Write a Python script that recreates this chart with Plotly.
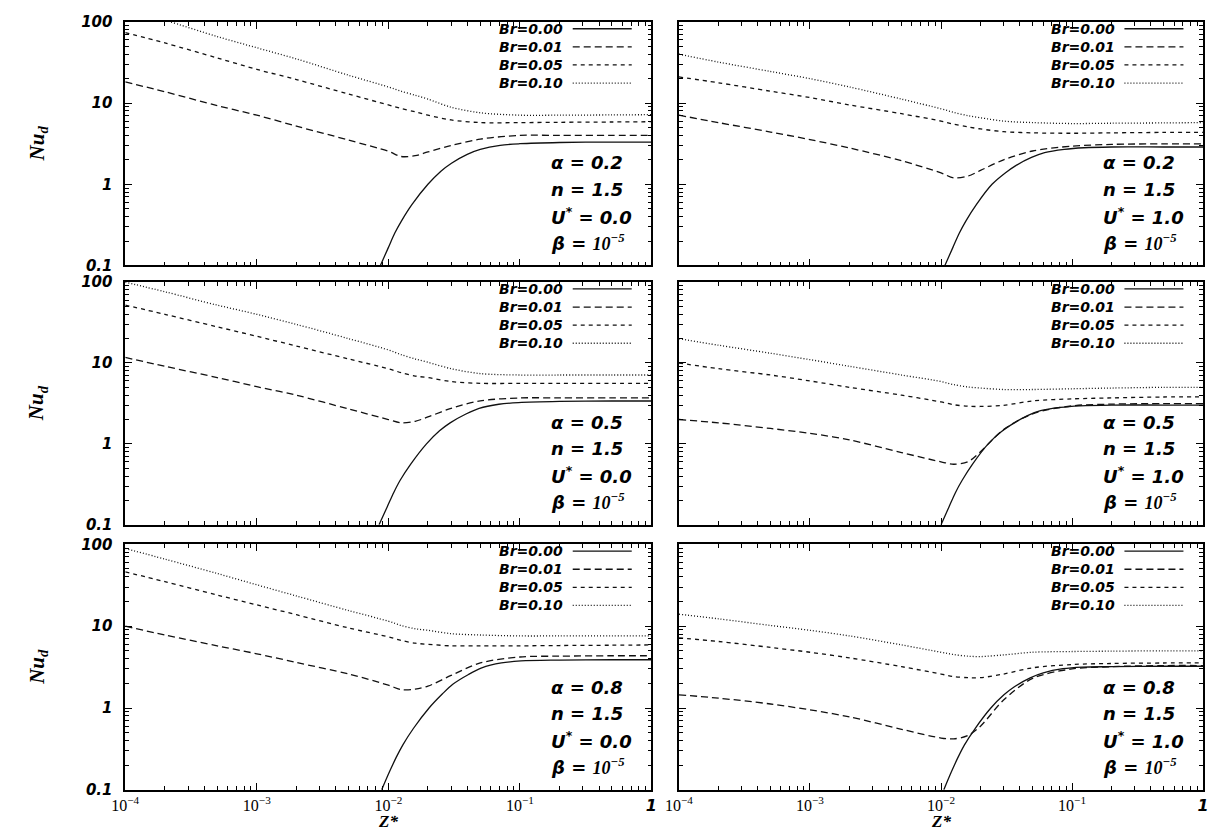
import plotly.graph_objects as go

# ---------------- data ----------------
BR_LABELS = ["Br=0.00", "Br=0.01", "Br=0.05", "Br=0.10"]
ALPHA_TXT = ["0.2", "0.2", "0.5", "0.5", "0.8", "0.8"]
USTAR_TXT = ["0.0", "1.0", "0.0", "1.0", "0.0", "1.0"]
N_TXT = "1.5"
X_TICKS = [1e-4, 1e-3, 1e-2, 1e-1, 1]
Y_TICKS = [0.1, 1, 10, 100]
Y_TICK_TEXT = ["0.1", "1", "10", "100"]

# common z* positions for the Br > 0 curves
Z_GRID = [1e-4, 2e-4, 5e-4, 1e-3, 2e-3, 5e-3, 0.01, 0.0125, 0.016, 0.02, 0.03, 0.05, 0.1, 0.2, 0.5, 1.0]

# panel 1: alpha=0.2, U*=0.0
p1_z_br000 = [0.0087, 0.01, 0.0112, 0.0126, 0.0151, 0.02, 0.0251, 0.0302, 0.0398, 0.05, 0.0708, 0.1, 0.2, 0.5, 1.0]
p1_nu_br000 = [0.1, 0.166, 0.251, 0.355, 0.562, 1.0, 1.45, 1.82, 2.34, 2.69, 3.02, 3.16, 3.27, 3.31, 3.31]
p1_nu_br001 = [18.2, 13.8, 9.3, 7.1, 5.2, 3.5, 2.55, 2.2, 2.25, 2.5, 3.0, 3.6, 4.0, 4.0, 4.0, 4.0]
p1_nu_br005 = [74, 55, 36, 26, 19.5, 12.9, 9.5, 8.6, 7.8, 7.1, 6.2, 5.75, 5.75, 5.8, 5.85, 5.9]
p1_nu_br010 = [145, 105, 66, 48, 35, 22, 15.8, 14.0, 12.5, 11.2, 8.9, 7.6, 7.1, 7.1, 7.15, 7.2]

# panel 2: alpha=0.2, U*=1.0
p2_z_br000 = [0.0107, 0.0123, 0.0138, 0.0155, 0.0186, 0.0245, 0.0309, 0.0372, 0.049, 0.0617, 0.0871, 0.123, 0.2, 0.5, 1.0]
p2_nu_br000 = [0.1, 0.166, 0.251, 0.355, 0.562, 1.0, 1.38, 1.70, 2.14, 2.45, 2.69, 2.82, 2.88, 2.88, 2.88]
p2_nu_br001 = [7.1, 5.75, 4.4, 3.55, 2.8, 1.95, 1.38, 1.2, 1.26, 1.48, 2.0, 2.57, 2.95, 3.1, 3.15, 3.15]
p2_nu_br005 = [21, 17.8, 14, 11.7, 9.5, 7.4, 6.0, 5.5, 5.1, 4.8, 4.45, 4.3, 4.25, 4.3, 4.35, 4.35]
p2_nu_br010 = [40, 32, 24.5, 20, 15.8, 11.2, 8.5, 7.7, 7.0, 6.6, 6.0, 5.75, 5.6, 5.65, 5.7, 5.75]

# panel 3: alpha=0.5, U*=0.0
p3_z_br000 = [0.0085, 0.0098, 0.011, 0.0123, 0.0148, 0.0195, 0.0245, 0.0295, 0.0389, 0.049, 0.0692, 0.0977, 0.2, 0.5, 1.0]
p3_nu_br000 = [0.1, 0.166, 0.251, 0.355, 0.562, 1.0, 1.45, 1.82, 2.34, 2.75, 3.09, 3.24, 3.35, 3.39, 3.39]
p3_nu_br001 = [11.7, 9.1, 6.6, 5.1, 4.0, 2.7, 2.0, 1.82, 1.9, 2.15, 2.75, 3.4, 3.7, 3.7, 3.7, 3.7]
p3_nu_br005 = [52, 40, 28, 21.4, 16.2, 11.2, 8.5, 7.6, 6.9, 6.6, 5.9, 5.6, 5.6, 5.6, 5.6, 5.6]
p3_nu_br010 = [100, 76, 52, 40, 30, 20, 14.5, 12.7, 11.2, 10.2, 8.5, 7.4, 7.1, 7.1, 7.1, 7.1]

# panel 4: alpha=0.5, U*=1.0
p4_z_br000 = [0.01, 0.0115, 0.0129, 0.0145, 0.0174, 0.0229, 0.0288, 0.0347, 0.0457, 0.0575, 0.0813, 0.115, 0.2, 0.5, 1.0]
p4_nu_br000 = [0.1, 0.166, 0.251, 0.355, 0.562, 1.0, 1.41, 1.74, 2.24, 2.57, 2.82, 2.95, 3.02, 3.02, 3.02]
p4_nu_br001 = [2.0, 1.82, 1.55, 1.35, 1.12, 0.78, 0.6, 0.56, 0.6, 0.8, 1.5, 2.35, 2.95, 3.1, 3.15, 3.15]
p4_nu_br005 = [10, 8.5, 7.1, 6.0, 5.0, 4.0, 3.3, 3.05, 2.92, 2.9, 3.0, 3.4, 3.6, 3.7, 3.8, 3.8]
p4_nu_br010 = [20, 16.6, 13.2, 11, 9.1, 7.1, 5.9, 5.4, 5.05, 4.9, 4.7, 4.7, 4.8, 4.9, 5.0, 5.0]

# panel 5: alpha=0.8, U*=0.0
p5_z_br000 = [0.0089, 0.0102, 0.0115, 0.0129, 0.0155, 0.0204, 0.0257, 0.0309, 0.0407, 0.0513, 0.0724, 0.102, 0.2, 0.5, 1.0]
p5_nu_br000 = [0.1, 0.166, 0.251, 0.355, 0.562, 1.0, 1.48, 1.95, 2.57, 3.09, 3.55, 3.76, 3.85, 3.89, 3.89]
p5_nu_br001 = [10, 7.8, 5.75, 4.6, 3.6, 2.6, 1.9, 1.68, 1.7, 1.85, 2.5, 3.55, 4.2, 4.3, 4.35, 4.35]
p5_nu_br005 = [46, 35, 24, 18.2, 13.8, 9.5, 7.4, 6.7, 6.2, 6.0, 5.75, 5.75, 5.75, 5.8, 5.85, 5.9]
p5_nu_br010 = [89, 66, 44, 32, 23.4, 15.5, 11.5, 10.2, 9.3, 8.9, 8.1, 7.8, 7.6, 7.6, 7.6, 7.6]

# panel 6: alpha=0.8, U*=1.0
p6_z_br000 = [0.0105, 0.012, 0.0135, 0.0151, 0.0182, 0.024, 0.0302, 0.0363, 0.0479, 0.0603, 0.0851, 0.12, 0.2, 0.5, 1.0]
p6_nu_br000 = [0.1, 0.166, 0.251, 0.355, 0.562, 1.0, 1.45, 1.82, 2.34, 2.69, 3.02, 3.16, 3.2, 3.24, 3.24]
p6_nu_br001 = [1.45, 1.32, 1.12, 0.95, 0.78, 0.55, 0.43, 0.42, 0.46, 0.6, 1.25, 2.3, 3.0, 3.2, 3.3, 3.3]
p6_nu_br005 = [7.2, 6.5, 5.5, 4.8, 4.1, 3.2, 2.6, 2.42, 2.35, 2.35, 2.6, 3.1, 3.4, 3.5, 3.55, 3.55]
p6_nu_br010 = [14, 12.3, 10.2, 8.9, 7.6, 5.9, 4.8, 4.5, 4.3, 4.25, 4.45, 4.8, 4.9, 4.95, 5.0, 5.0]

PANELS = [
    (p1_z_br000, p1_nu_br000, p1_nu_br001, p1_nu_br005, p1_nu_br010),
    (p2_z_br000, p2_nu_br000, p2_nu_br001, p2_nu_br005, p2_nu_br010),
    (p3_z_br000, p3_nu_br000, p3_nu_br001, p3_nu_br005, p3_nu_br010),
    (p4_z_br000, p4_nu_br000, p4_nu_br001, p4_nu_br005, p4_nu_br010),
    (p5_z_br000, p5_nu_br000, p5_nu_br001, p5_nu_br005, p5_nu_br010),
    (p6_z_br000, p6_nu_br000, p6_nu_br001, p6_nu_br005, p6_nu_br010),
]

# ---------------- style / layout ----------------
PAGE_OFF = 8                    # default page margin of the html body
W, H = 1216 - PAGE_OFF, 838 - PAGE_OFF
DASHES = ["solid", "7px,4px", "4px,4px", "1px,2px"]
COL_X = [(113, 648), (676, 1209)]          # screen pixel left/right of each column
ROW_Y = [(13, 262), (279, 527), (547, 798)]  # screen pixel top/bottom of each row
SANS = "DejaVu Sans"
SERIF = "Liberation Serif"


def px(x):
    return (x - PAGE_OFF) / W


def py(y):
    return 1 - (y - PAGE_OFF) / H


fig = go.Figure()
annotations = []
shapes = []
layout_axes = {}

for k, (zs, nu0, nu1, nu5, nu10) in enumerate(PANELS):
    r, c = divmod(k, 2)
    idx = "" if k == 0 else str(k + 1)
    xa, ya = "x" + idx, "y" + idx
    series = [(zs, nu0), (Z_GRID, nu1), (Z_GRID, nu5), (Z_GRID, nu10)]
    for j, (xx, yy) in enumerate(series):
        fig.add_trace(go.Scatter(
            x=xx, y=yy, mode="lines", xaxis=xa, yaxis=ya,
            line=dict(color="#111111", width=1.3, dash=DASHES[j], shape="spline", smoothing=0.9),
            showlegend=False, name=BR_LABELS[j]))

    x0, x1 = COL_X[c]
    y0, y1 = ROW_Y[r]
    bottom = (r == 2)
    left = (c == 0)
    xaxis = dict(
        type="log", range=[-4, 0], domain=[px(x0), px(x1)], anchor=ya,
        showline=True, linecolor="black", linewidth=1.6, mirror="allticks",
        ticks="inside", ticklen=7, tickwidth=1.3, tickcolor="black",
        showgrid=False, zeroline=False,
        tickmode="array", tickvals=X_TICKS,
        ticktext=["10<sup>\u22124</sup>", "10<sup>\u22123</sup>", "10<sup>\u22122</sup>",
                  "10<sup>\u22121</sup>",
                  "<span style='font-family:DejaVu Sans;font-weight:bold;font-style:italic'>1</span>"],
        tickfont=dict(family=SERIF, size=16, color="black"),
        ticklabelstandoff=0,
        showticklabels=bottom,
        minor=dict(ticks="inside", ticklen=4, tickwidth=1, tickcolor="black", dtick="D1", showgrid=False),
    )
    yaxis = dict(
        type="log", range=[-1, 2], domain=[py(y1), py(y0)], anchor=xa,
        showline=True, linecolor="black", linewidth=1.6, mirror="allticks",
        ticks="inside", ticklen=7, tickwidth=1.3, tickcolor="black",
        showgrid=False, zeroline=False,
        tickmode="array", tickvals=Y_TICKS, ticktext=Y_TICK_TEXT,
        tickfont=dict(family=SANS, size=15, color="black", weight="bold", style="italic"),
        ticklabelstandoff=8,
        showticklabels=left,
        minor=dict(ticks="inside", ticklen=4, tickwidth=1, tickcolor="black", dtick="D1", showgrid=False),
    )
    layout_axes["xaxis" + idx] = xaxis
    layout_axes["yaxis" + idx] = yaxis

    # legend (text then line sample), inside top-right
    for j, lab in enumerate(BR_LABELS):
        yy = y0 + 7 + 18.5 * j
        annotations.append(dict(
            x=px(x1 - 88), y=py(yy), xref="paper", yref="paper", text=lab,
            showarrow=False, xanchor="right", yanchor="middle",
            font=dict(family=SANS, size=14, color="black", weight="bold", style="italic")))
        shapes.append(dict(
            type="line", xref="paper", yref="paper",
            x0=px(x1 - 80), x1=px(x1 - 20), y0=py(yy), y1=py(yy),
            line=dict(color="#111111", width=1.3, dash=DASHES[j])))

    # parameter block, bottom-right
    params = [
        "\u03b1 = " + ALPHA_TXT[k],
        "n = " + N_TXT,
        "U<sup>*</sup> = " + USTAR_TXT[k],
        "\u03b2 = <span style='font-family:Liberation Serif'>10<sup>\u22125</sup></span>",
    ]
    for j, t in enumerate(params):
        yy = y1 - 24 - 27 * (3 - j)
        annotations.append(dict(
            x=px(x1 - 104), y=py(yy), xref="paper", yref="paper", text=t,
            showarrow=False, xanchor="left", yanchor="middle",
            font=dict(family=SANS, size=18, color="black", weight="bold", style="italic")))

    # y-axis title
    if left:
        annotations.append(dict(
            x=px(24), y=py((y0 + y1) / 2), xref="paper", yref="paper",
            text="Nu<sub>d</sub>", textangle=-90, showarrow=False,
            xanchor="center", yanchor="middle",
            font=dict(family=SERIF, size=21, color="black", weight="bold", style="italic")))
    # x-axis title
    if bottom:
        annotations.append(dict(
            x=px((x0 + x1) / 2), y=py(830), xref="paper", yref="paper",
            text="Z*", showarrow=False, xanchor="center", yanchor="middle",
            font=dict(family=SERIF, size=17, color="black", weight="bold", style="italic")))

fig.update_layout(
    width=W, height=H, margin=dict(l=0, r=0, t=0, b=0),
    paper_bgcolor="white", plot_bgcolor="white",
    showlegend=False, annotations=annotations, shapes=shapes,
    **layout_axes,
)

fig.write_html("out.html")
